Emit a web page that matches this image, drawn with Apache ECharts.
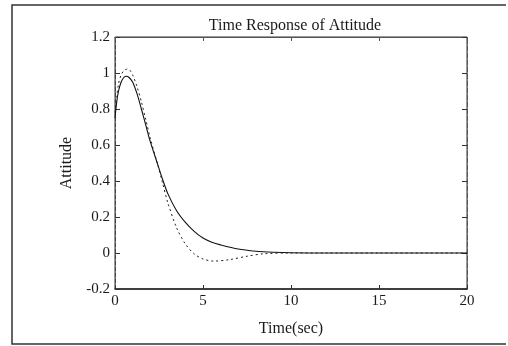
<!DOCTYPE html>
<html>
<head>
<meta charset="utf-8">
<script src="https://cdn.jsdelivr.net/npm/echarts@6/dist/echarts.min.js"></script>
<style>
  html, body { margin: 0; padding: 0; background: #fff; }
  #pic { width: 508px; height: 346px; }
</style>
</head>
<body>
<div id="pic"></div>
<script>
// values
var timeSolid = [0, 0.1, 0.2, 0.35, 0.5, 0.65, 0.8, 1.0, 1.25, 1.5, 1.75, 2.0, 2.4, 2.7, 3.0, 3.5, 4.0, 4.5, 5.0, 5.5, 6.0, 7.0, 8.0, 9.0, 10, 12, 15, 20];
var attSolid  = [0.75, 0.84, 0.9, 0.95, 0.975, 0.982, 0.975, 0.95, 0.885, 0.80, 0.71, 0.62, 0.50, 0.41, 0.33, 0.235, 0.17, 0.12, 0.083, 0.06, 0.045, 0.022, 0.01, 0.004, 0.001, 0, 0, 0];
var timeDot = [0, 0.1, 0.2, 0.35, 0.5, 0.7, 0.85, 1.0, 1.25, 1.5, 1.75, 2.0, 2.4, 2.7, 3.0, 3.5, 4.0, 4.5, 5.0, 5.6, 6.5, 7.5, 8.5, 10, 12, 15, 20];
var attDot  = [0.78, 0.87, 0.94, 0.99, 1.012, 1.022, 1.015, 0.99, 0.925, 0.84, 0.74, 0.64, 0.50, 0.39, 0.28, 0.14, 0.05, -0.005, -0.033, -0.045, -0.037, -0.018, -0.004, 0, 0, 0, 0];
var yTicks = [-0.2, 0, 0.2, 0.4, 0.6, 0.8, 1, 1.2];

function pairs(xs, ys) {
  var out = [];
  for (var i = 0; i < xs.length; i++) out.push([xs[i], ys[i]]);
  return out;
}

var chart = echarts.init(document.getElementById('pic'));
var serif = '"Liberation Serif", "DejaVu Serif", serif';
var ink = '#1a1a1a';

var option = {
  backgroundColor: '#fff',
  animation: false,
  title: {
    text: 'Time Response of Attitude',
    left: 290, top: 13, textAlign: 'center',
    textStyle: { fontFamily: serif, fontSize: 16, fontWeight: 'normal', color: ink }
  },
  grid: {
    left: 115, right: 41, top: 37, bottom: 57,
    show: true, borderColor: '#333', borderWidth: 1
  },
  xAxis: [{
    type: 'value', min: 0, max: 20, interval: 5,
    name: 'Time(sec)', nameLocation: 'middle', nameGap: 32,
    nameTextStyle: { fontFamily: serif, fontSize: 16, color: ink },
    axisLine: { onZero: false, lineStyle: { color: '#222', width: 1.5 } },
    axisTick: { inside: true, length: 4, lineStyle: { color: '#333' } },
    axisLabel: { fontFamily: serif, fontSize: 15, color: ink, margin: 5 },
    splitLine: { show: false }
  }, {
    type: 'value', min: 0, max: 20, interval: 5, position: 'top',
    axisLine: { onZero: false, show: true, lineStyle: { color: '#555' } },
    axisTick: { inside: true, length: 4, lineStyle: { color: '#555' } },
    axisLabel: { show: false }, splitLine: { show: false }
  }],
  yAxis: [{
    type: 'value', min: -0.2, max: 1.2, interval: 0.2,
    name: 'Attitude', nameLocation: 'middle', nameGap: 40, nameRotate: 90,
    nameTextStyle: { fontFamily: serif, fontSize: 16, color: ink },
    axisLine: { onZero: false, show: true, lineStyle: { color: '#444', type: [4, 2] } },
    axisTick: { inside: true, length: 5, lineStyle: { color: '#333' } },
    axisLabel: {
      fontFamily: serif, fontSize: 15, color: ink, margin: 5,
      formatter: function (v) {
        var r = Math.round(v * 10) / 10;
        return yTicks.indexOf(r) >= 0 ? String(r) : '';
      }
    },
    splitLine: { show: false }
  }, {
    type: 'value', min: -0.2, max: 1.2, interval: 0.2, position: 'right',
    axisLine: { onZero: false, show: true, lineStyle: { color: '#555', type: [5, 2] } },
    axisTick: { inside: true, length: 5, lineStyle: { color: '#333' } },
    axisLabel: { show: false }, splitLine: { show: false }
  }],
  graphic: [{
    type: 'polyline',
    shape: { points: [[506, 5], [12, 5], [12, 344], [506, 344]] },
    style: { stroke: '#333', lineWidth: 1.5, fill: null },
    silent: true
  }],
  series: [{
    type: 'line', smooth: 0.3, symbol: 'none',
    data: pairs(timeSolid, attSolid),
    lineStyle: { color: '#111', width: 1.1 }
  }, {
    type: 'line', smooth: 0.3, symbol: 'none',
    data: pairs(timeDot, attDot),
    lineStyle: { color: '#222', width: 1, type: [2, 3] }
  }]
};
chart.setOption(option);
</script>
</body>
</html>
